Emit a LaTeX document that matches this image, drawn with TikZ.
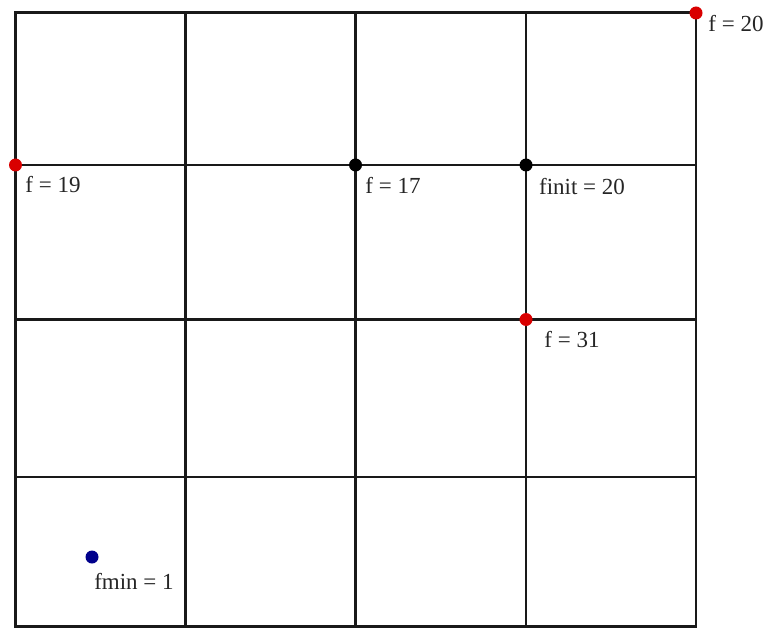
\documentclass[tikz,border=0pt]{standalone}
\usepackage{fontspec}
\setmainfont{Liberation Serif}
\begin{document}
\begin{tikzpicture}[x=1pt,y=-1pt,
  gridline/.style={line width=2.2pt,black!90,line cap=rect},
  dotmark/.style={circle,inner sep=0pt,minimum size=13pt},
  lbl/.style={inner sep=0pt,font=\fontsize{23}{26}\selectfont,text=black!85}]
\useasboundingbox[fill=white] (0,0) rectangle (770,628);
% grid
\foreach \x in {15.5,185.5,355.5,526,696}
  \draw[gridline] (\x,12.5) -- (\x,626.5);
\foreach \y in {12.5,165,319.5,477,626.5}
  \draw[gridline] (15.5,\y) -- (696,\y);
% points
\node[dotmark,fill=red!85!black] (p19) at (15.5,165) {};
\node[dotmark,fill=red!85!black] (p20) at (696,13) {};
\node[dotmark,fill=black] (p17) at (355.5,165) {};
\node[dotmark,fill=black] (pinit) at (526,165) {};
\node[dotmark,fill=red!85!black] (p31) at (526,319.5) {};
\node[dotmark,fill=blue!55!black] (pmin) at (92,557) {};
% labels
\node[lbl] (l19) at (53,185) {f = 19};
\node[lbl] (l17) at (393,185) {f = 17};
\node[lbl] (linit) at (582,187) {finit = 20};
\node[lbl] (l31) at (572,340) {f = 31};
\node[lbl] (l20) at (736,24) {f = 20};
\node[lbl] (lmin) at (134,581) {fmin = 1};
\end{tikzpicture}
\end{document}
